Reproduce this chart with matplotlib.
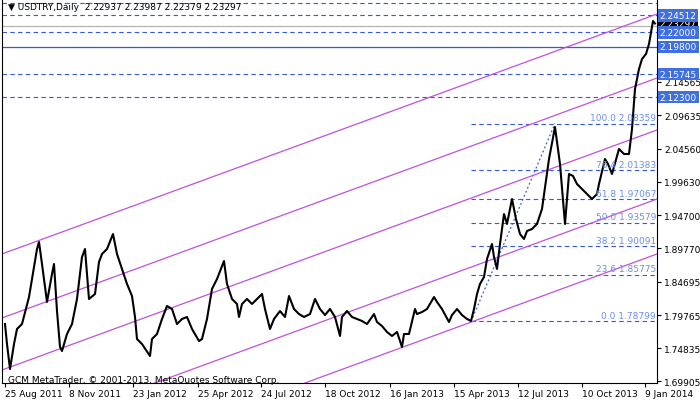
import matplotlib
matplotlib.use('Agg')
import matplotlib.pyplot as plt

# bar position (one unit per daily bar on screen) and close price
bar_x = [3, 5, 8, 12, 15, 20, 27, 30, 35, 37, 40, 45, 50, 52, 55, 58, 60, 65, 70, 75,
         80, 83, 87, 93, 97, 100, 105, 111, 115, 120, 125, 130,
         133, 135, 140, 148, 150, 155, 160, 165, 170, 175, 180, 185, 190, 197, 200, 205,
         210, 215, 222, 225, 230, 235, 237, 240, 245, 250, 255, 260, 263, 268, 272, 278,
         283, 287, 292, 297, 302, 308, 313, 318, 323, 328, 333, 338, 340, 345, 350, 355,
         360, 365, 372, 375, 380, 385, 390, 395, 400, 402, 407, 413, 415, 420, 425, 432,
         435, 440, 447, 450, 455, 460, 465, 469, 472, 475, 478, 482, 485, 490, 492, 495,
         498, 502, 505, 510, 514, 518, 522, 525, 530, 535, 540, 547, 553, 556, 558, 563,
         567, 571, 575, 580, 585, 590, 595, 597, 603, 606, 610, 617, 622, 627, 630, 633,
         637, 640, 644, 647, 651, 653]
close = [1.7842, 1.7543, 1.7170, 1.7543, 1.7768, 1.7842, 1.8245, 1.8514, 1.8962, 1.9067,
         1.8738, 1.8171, 1.8589, 1.8738, 1.8036, 1.7499, 1.7439, 1.7693, 1.7842, 1.8216,
         1.8843, 1.8962, 1.8216, 1.8290, 1.8768, 1.8888, 1.8962, 1.9186, 1.8888, 1.8664,
         1.8440, 1.8260,
         1.7947, 1.7618, 1.7543, 1.7364, 1.7618, 1.7693, 1.7917, 1.8111, 1.8066, 1.7842,
         1.7917, 1.7947, 1.7768, 1.7588, 1.7618, 1.7917, 1.8365, 1.8514, 1.8783, 1.8440,
         1.8216, 1.8141, 1.7947, 1.8141, 1.8216, 1.8141, 1.8216, 1.8290, 1.8066, 1.7768,
         1.7917, 1.8036, 1.7947, 1.8260, 1.8066, 1.7991, 1.7947, 1.7991, 1.8216, 1.8066,
         1.7976, 1.8066, 1.7947, 1.7663, 1.7947, 1.8036, 1.7947, 1.7917, 1.7887, 1.7842,
         1.7991, 1.7872, 1.7812, 1.7723, 1.7663, 1.7723, 1.7499, 1.7693, 1.7693, 1.8066,
         1.7991, 1.8021, 1.8066, 1.8245, 1.8171, 1.8066, 1.7872, 1.7976, 1.8066, 1.7976,
         1.7917, 1.7887, 1.8066, 1.8290, 1.8440, 1.8544, 1.8813, 1.9037, 1.8843,
         1.8664, 1.9037, 1.9485, 1.9336, 1.9709, 1.9410, 1.9186, 1.9112, 1.9231, 1.9261,
         1.9336, 1.9560, 2.0306, 2.0784, 2.0456, 2.0232, 1.9336, 2.0082, 2.0053,
         1.9933, 1.9858, 1.9784, 1.9709, 1.9784, 1.9933, 2.0306, 2.0232, 2.0082, 2.0456,
         2.0381, 2.0381, 2.0754, 2.1352, 2.1651, 2.1800, 2.1875, 2.2024, 2.2367, 2.2330]

date_pos = [3, 67, 131, 196, 259, 323, 388, 452, 516, 580, 643]
date_labels = ['25 Aug 2011', '8 Nov 2011', '23 Jan 2012', '25 Apr 2012', '24 Jul 2012',
               '18 Oct 2012', '16 Jan 2013', '15 Apr 2013', '12 Jul 2013', '10 Oct 2013',
               '9 Jan 2014']
price_ticks = [2.14565, 2.09635, 2.04560, 1.99630, 1.94700, 1.89770, 1.84695,
               1.79765, 1.74835, 1.69905]

# channel lines: price at left edge and at right edge
chan_left = [1.8888, 1.7932, 1.7155, 1.6125, 1.5303]
chan_right = [2.2472, 2.1516, 2.0740, 1.9709, 1.8888]

# horizontal level lines
dashed_levels = [2.2636, 2.24512, 2.22000, 2.15745, 2.12300]
solid_level = 2.19800
current_open = 2.22937
boxed_levels = [2.24512, 2.22000, 2.19800, 2.15745, 2.12300]
last_price = 2.23297

fib_pct = ['100.0', '76.4', '61.8', '50.0', '38.2', '23.6', '0.0']
fib_price = [2.08359, 2.01383, 1.97067, 1.93579, 1.90091, 1.85775, 1.78799]
fib_start = 469
fib_top_x = 553

XMAX = 655
YMIN, YMAX = 1.6961, 2.2696
blue = '#3558e0'
fsize = 6.5

fig = plt.figure(figsize=(7, 4.02), dpi=100)
ax = fig.add_axes([2 / 700, 18 / 402, 655 / 700, 384 / 402])
ax.set_xlim(0, XMAX)
ax.set_ylim(YMIN, YMAX)

for lvl in dashed_levels:
    ax.axhline(lvl, color=blue, lw=0.8, ls=(0, (4, 3)))
ax.axhline(solid_level, color=blue, lw=0.9)
ax.axhline(current_open, color='#b4b4b4', lw=0.9)

for p, lvl in zip(fib_pct, fib_price):
    ax.plot([fib_start, XMAX], [lvl, lvl], color=blue, lw=0.8, ls=(0, (4, 3)))
    ax.text(XMAX - 1, lvl + 0.002, f'{p} {lvl:.5f}', color='#6a8ee8',
            fontsize=fsize, ha='right', va='bottom')
ax.plot([fib_start, fib_top_x], [fib_price[-1], fib_price[0]], color=blue,
        lw=0.9, ls=(0, (1.5, 2)))

for l, r in zip(chan_left, chan_right):
    ax.plot([0, XMAX], [l, r], color='#c050e0', lw=0.9)

ax.plot(bar_x, close, color='black', lw=1.5)

ax.text(6, YMAX - 0.004, '▼ USDTRY,Daily  2.22937 2.23987 2.22379 2.23297',
        fontsize=fsize, va='top', ha='left')
ax.text(6, 1.7015, 'GCM MetaTrader, © 2001-2013, MetaQuotes Software Corp.',
        fontsize=fsize, va='center', ha='left')

ax.set_xticks(date_pos)
ax.set_xticklabels(date_labels, ha='left', fontsize=fsize)
ax.tick_params(axis='x', length=3, pad=1)
ax.yaxis.tick_right()
ax.set_yticks(price_ticks)
ax.set_yticklabels([f'{v:.5f}' for v in price_ticks], fontsize=fsize)
ax.tick_params(axis='y', length=3, pad=2)

ax.annotate(f'{last_price:.5f}', (1.0, last_price), xycoords=('axes fraction', 'data'),
            xytext=(2, 0), textcoords='offset points', fontsize=fsize, color='white',
            va='center', bbox=dict(boxstyle='square,pad=0.15', fc='black', ec='none'),
            annotation_clip=False)
for lvl in boxed_levels:
    ax.annotate(f'{lvl:.5f}', (1.0, lvl), xycoords=('axes fraction', 'data'),
                xytext=(2, 0), textcoords='offset points', fontsize=fsize, color='white',
                va='center', bbox=dict(boxstyle='square,pad=0.2', fc='#3f6fe0', ec='none'),
                annotation_clip=False)

ax.spines['top'].set_visible(False)

fig.savefig('out.png', dpi=100)
